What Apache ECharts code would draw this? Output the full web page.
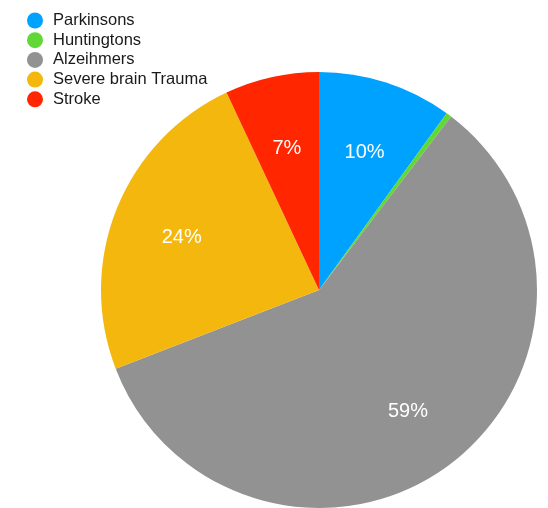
<!DOCTYPE html>
<html>
<head>
<meta charset="utf-8">
<script src="https://cdn.jsdelivr.net/npm/echarts@6/dist/echarts.min.js"></script>
<style>
  html, body { margin: 0; padding: 0; background: #fff; }
  #chart { width: 548px; height: 508px; }
</style>
</head>
<body>
<div id="chart"></div>
<script>
  // data
  var names = ['Parkinsons', 'Huntingtons', 'Alzeihmers', 'Severe brain Trauma', 'Stroke'];
  var values = [10, 0.4, 59, 24, 7];
  var colors = ['#00A2FF', '#61D836', '#929292', '#F4B70D', '#FF2600'];

  var font = '"Liberation Sans", Arial, Helvetica, sans-serif';
  var center = [319, 290];

  var pieData = names.map(function (n, i) {
    return { name: n, value: values[i], itemStyle: { color: colors[i] } };
  });

  // overlay ring only used to put the labels at ~2/3 of radius
  var labelData = names.map(function (n, i) {
    return { name: n, value: values[i], itemStyle: { color: 'rgba(0,0,0,0)' } };
  });

  var myChart = echarts.init(document.getElementById('chart'));
  var option = {
    animation: false,
    color: colors,
    legend: {
      orient: 'vertical',
      left: 22,
      top: 7,
      icon: 'circle',
      itemWidth: 16,
      itemHeight: 16,
      itemGap: 2.7,
      data: names,
      textStyle: {
        fontFamily: font,
        fontSize: 16.5,
        lineHeight: 16,
        color: '#1a1a1a',
        padding: [0, 0, 0, 5]
      }
    },
    series: [
      {
        type: 'pie',
        center: center,
        radius: 218,
        startAngle: 90,
        clockwise: true,
        silent: true,
        label: { show: false },
        labelLine: { show: false },
        itemStyle: { borderWidth: 0 },
        data: pieData
      },
      {
        type: 'pie',
        center: center,
        radius: [72, 218],
        startAngle: 90,
        clockwise: true,
        silent: true,
        legendHoverLink: false,
        itemStyle: { borderWidth: 0 },
        label: {
          show: true,
          position: 'inside',
          color: '#fff',
          fontFamily: font,
          fontSize: 20,
          offset: [0, 3],
          formatter: function (p) {
            if (p.percent < 2) return '';
            return Math.round(p.percent) + '%';
          }
        },
        labelLine: { show: false },
        data: labelData
      }
    ]
  };
  myChart.setOption(option);
</script>
</body>
</html>
